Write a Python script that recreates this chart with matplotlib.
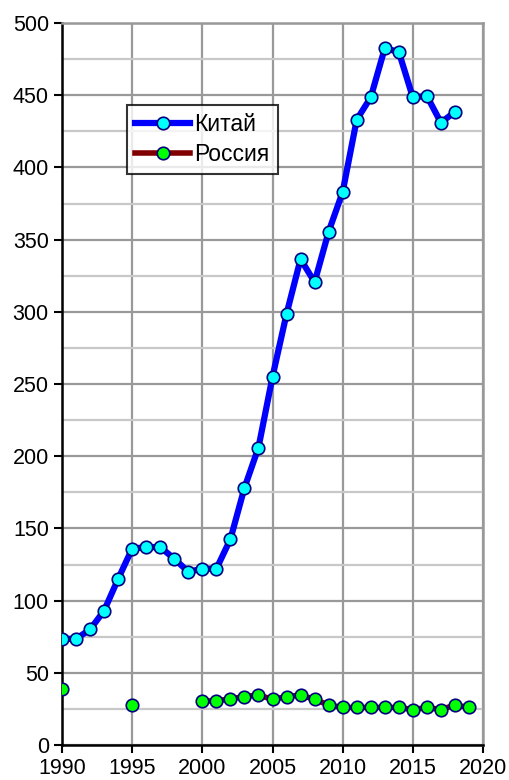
import matplotlib
matplotlib.use('Agg')
import matplotlib.pyplot as plt
import numpy as np

plt.rcParams['font.family'] = ['Liberation Sans', 'DejaVu Sans']

# data
years = np.arange(1990, 2020)
china = [73.5, 73.5, 80, 93, 115, 136, 137, 137, 129, 120,
         122, 122, 142.5, 178, 206, 255, 298.5, 336.5, 320.5, 355.5,
         383, 433, 448.5, 482.5, 480, 448.5, 449.5, 431, 438.5, np.nan]
russia = [39, np.nan, np.nan, np.nan, np.nan, 27.7, np.nan, np.nan, np.nan, np.nan,
          30.5, 30.5, 32, 33.5, 34.6, 31.6, 33.5, 34.6, 31.6, 27.7,
          26, 26, 26, 26, 26, 24.5, 26, 24.5, 27.7, 26]
labels = ['Китай', 'Россия']

fig = plt.figure(figsize=(5.09, 7.80), dpi=100)
ax = fig.add_axes([62/509, 35/780, 421/509, 722/780])

# grid lines
ax.set_yticks(np.arange(0, 501, 25), minor=True)
ax.grid(True, which='major', axis='both', color='#999999', linewidth=1.6, zorder=0)
ax.grid(True, which='minor', axis='y', color='#c8c8c8', linewidth=1.6, zorder=0)

ax.plot(years, china, color='#0000ff', linewidth=4.5, marker='o', markersize=9,
        markerfacecolor='#00ffff', markeredgecolor='#000080', markeredgewidth=1.2,
        label=labels[0], zorder=3)
ax.plot(years, russia, color='#800000', linewidth=4, marker='o', markersize=9,
        markerfacecolor='#00ff00', markeredgecolor='#000080', markeredgewidth=1.2,
        label=labels[1], zorder=3)

ax.set_xlim(1990, 2020)
ax.set_ylim(0, 500)
ax.set_xticks(np.arange(1990, 2021, 5))
ax.set_yticks(np.arange(0, 501, 50))
ax.tick_params(axis='both', which='major', labelsize=15.5, direction='out',
               length=6, width=1.5, color='black')
ax.tick_params(axis='y', which='minor', length=0)

for s in ['left', 'bottom']:
    ax.spines[s].set_color('black')
    ax.spines[s].set_linewidth(1.8)
for s in ['top', 'right']:
    ax.spines[s].set_color('#999999')
    ax.spines[s].set_linewidth(1.8)

leg = ax.legend(loc='upper left', bbox_to_anchor=(65/421, 1 - 82/722),
                fontsize=16.5, frameon=True, fancybox=False, edgecolor='black',
                handlelength=2.4, borderpad=0.35, labelspacing=0.3, handletextpad=0.2,
                borderaxespad=0)
leg.get_frame().set_linewidth(1.5)

plt.savefig('out.png', dpi=100)
